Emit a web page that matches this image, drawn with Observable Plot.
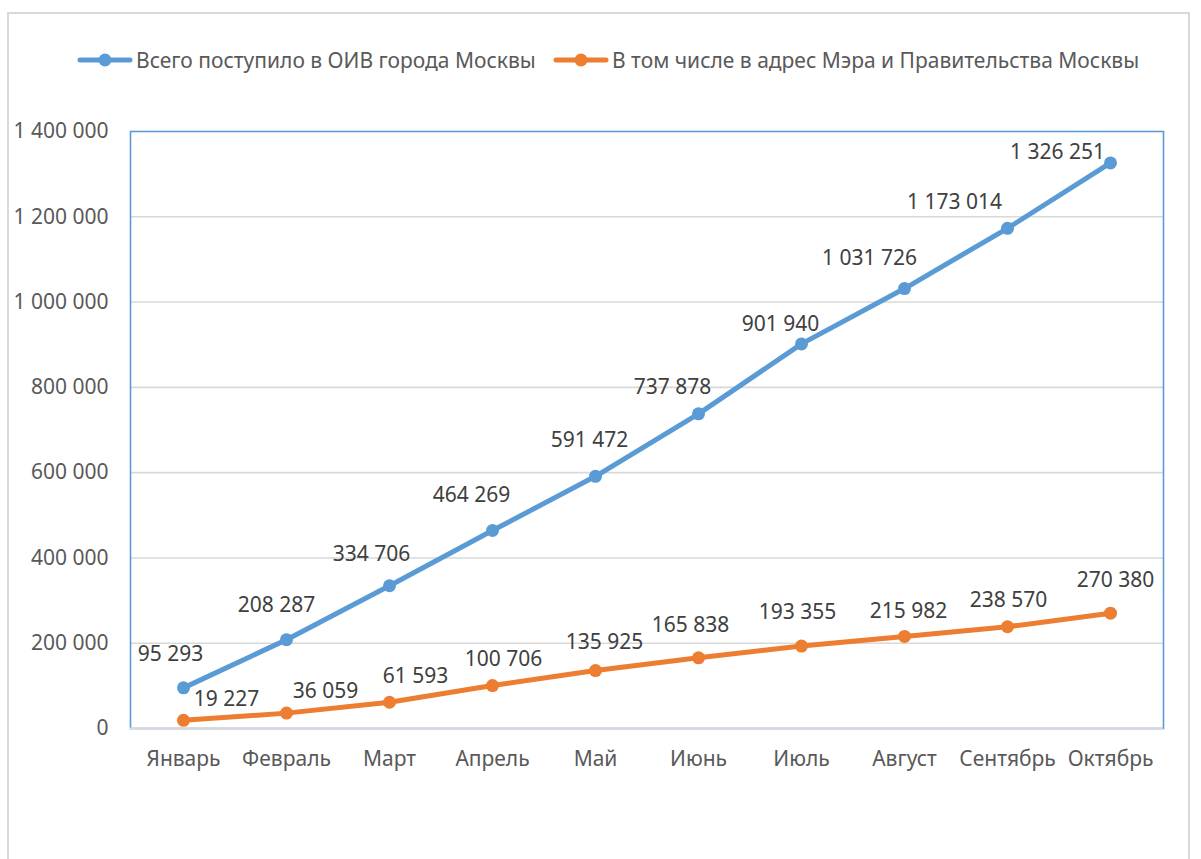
<!DOCTYPE html>
<html><head><meta charset="utf-8">
<script src="https://cdn.jsdelivr.net/npm/d3@7"></script>
<script src="https://cdn.jsdelivr.net/npm/@observablehq/plot@0.6"></script>
<style>
body{margin:0;background:#fff;}
#wrap{position:relative;width:1201px;height:859px;overflow:hidden;font-family:"Noto Sans",sans-serif;}
#border{position:absolute;left:7px;top:12px;width:1183px;height:900px;border:2px solid #d9d9d9;box-sizing:border-box;}
#chart{position:absolute;left:0;top:0;}
.leg{position:absolute;top:46px;display:flex;align-items:center;font-size:21px;color:#595959;white-space:nowrap;}
.leg svg{margin-right:3px;}
</style></head>
<body>
<div id="wrap"><div id="border"></div><div id="chart"></div><div id="legend"></div></div>
<script>
const months = ["Январь","Февраль","Март","Апрель","Май","Июнь","Июль","Август","Сентябрь","Октябрь"];
const totalAll = [95293, 208287, 334706, 464269, 591472, 737878, 901940, 1031726, 1173014, 1326251];
const mayorGov = [19227, 36059, 61593, 100706, 135925, 165838, 193355, 215982, 238570, 270380];
const yTicks = [0, 200000, 400000, 600000, 800000, 1000000, 1200000, 1400000];
const seriesNames = ["Всего поступило в ОИВ города Москвы", "В том числе в адрес Мэра и Правительства Москвы"];
const seriesColors = ["#5B9BD5", "#ED7D31"];

// label nudges (px), styling only
const blueLabelDx = [-13,-10,-18,-21,-6,-26,-21,-35,-53,-53];
const blueLabelDy = [-34,-34,-32,-35,-36,-27,-20,-30,-26,-11];
const orangeLabelDx = [43,39,26,11,9,-8,-4,4,1,5];
const orangeLabelDy = [-21,-22,-26,-26,-28,-33,-34,-25,-27,-33];

const fmt = v => d3.format(",")(v).replace(/,/g, " ");
const blueRows = months.map((m,i)=>({month:m, value: totalAll[i]}));
const orangeRows = months.map((m,i)=>({month:m, value: mayorGov[i]}));

const labelMarks = [];
blueRows.forEach((d,i)=>labelMarks.push(Plot.text([d], {x:"month", y:"value", text:d=>fmt(d.value), dx:blueLabelDx[i], dy:blueLabelDy[i], fill:"#404040", fontSize:21, textAnchor:"middle", lineAnchor:"middle"})));
orangeRows.forEach((d,i)=>labelMarks.push(Plot.text([d], {x:"month", y:"value", text:d=>fmt(d.value), dx:orangeLabelDx[i], dy:orangeLabelDy[i], fill:"#404040", fontSize:21, textAnchor:"middle", lineAnchor:"middle"})));

const chart = Plot.plot({
  width: 1201, height: 859,
  marginLeft: 130, marginRight: 38, marginTop: 131, marginBottom: 131,
  x: {type:"point", domain: months, padding: 0.5, label: null},
  y: {domain: [0, 1400000], label: null},
  style: {fontFamily: "'Noto Sans', sans-serif", fontSize: "21px", color: "#595959", background: "transparent"},
  marks: [
    Plot.ruleY(yTicks.filter(t => t > 0 && t < 1400000), {stroke: "#d9d9d9", strokeWidth: 1.6}),
    Plot.frame({stroke: "#5B9BD5", strokeWidth: 1.6}),
    Plot.ruleY([0], {stroke: "#d9d9d9", strokeWidth: 2.2}),
    Plot.axisY({ticks: yTicks, tickFormat: fmt, tickSize: 0, tickPadding: 22, fontSize: 21, fill: "#595959"}),
    Plot.axisX({tickSize: 0, tickPadding: 23, fontSize: 21, fill: "#595959"}),
    Plot.line(blueRows, {x: "month", y: "value", stroke: seriesColors[0], strokeWidth: 5, strokeLinecap: "round", strokeLinejoin: "round"}),
    Plot.dot(blueRows, {x: "month", y: "value", r: 6.5, fill: seriesColors[0], stroke: null}),
    Plot.line(orangeRows, {x: "month", y: "value", stroke: seriesColors[1], strokeWidth: 5, strokeLinecap: "round", strokeLinejoin: "round"}),
    Plot.dot(orangeRows, {x: "month", y: "value", r: 6.5, fill: seriesColors[1], stroke: null}),
    ...labelMarks
  ]
});
document.getElementById("chart").appendChild(chart);

const legendLefts = [77, 553];
const legend = document.getElementById("legend");
seriesNames.forEach((name, i) => {
  const item = document.createElement("div");
  item.className = "leg";
  item.style.left = legendLefts[i] + "px";
  item.innerHTML = `<svg width="56" height="16"><line x1="3" y1="8" x2="53" y2="8" stroke="${seriesColors[i]}" stroke-width="5" stroke-linecap="round"/><circle cx="28" cy="8" r="6.5" fill="${seriesColors[i]}"/></svg><span>${name}</span>`;
  legend.appendChild(item);
});
</script>
</body></html>
